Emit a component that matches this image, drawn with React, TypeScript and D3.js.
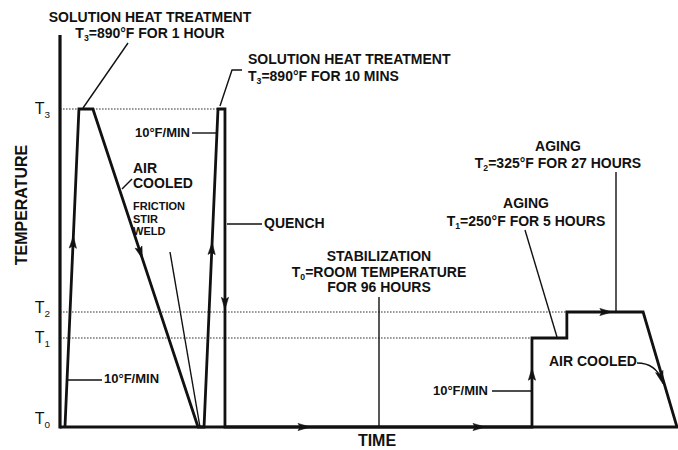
import React, { useEffect, useRef } from "react";
import * as d3 from "d3";

// temperature levels (T0 = room temperature), degrees F
const levelNames = ["T0", "T1", "T2", "T3"];
const levelTemps = [70, 250, 325, 890];

// time-temperature path of the whole process (schematic time units)
const pathTime = [1.0, 3.8, 6.6, 27.7, 28.9, 31.7, 33.1, 33.1, 94.7, 94.7, 101.7, 101.7, 117.0, 123.8];
const pathTemp = [70, 890, 890, 70, 70, 890, 890, 70, 70, 250, 250, 325, 325, 70];

// arrows: path segment index and position of the tip along it
const arrowSeg = [0, 2, 4, 6, 7, 7, 8, 11];
const arrowAt = [0.6, 0.47, 0.58, 0.63, 0.277, 0.847, 0.66, 0.59];

// dotted guide lines: level and the time where they stop
const guideTemps = [890, 325, 250];
const guideEnds = [31.7, 101.7, 94.7];

const W = 678, H = 450;
const FONT = "'Liberation Sans', Arial, Helvetica, sans-serif";
const INK = "#111";

const labels = [
  { lines: ["SOLUTION HEAT TREATMENT", "T_3=890°F FOR 1 HOUR"], x: 150, y: [22, 38], anchor: "middle", size: 14 },
  { lines: ["SOLUTION HEAT TREATMENT", "T_3=890°F FOR 10 MINS"], x: 248, y: [64, 81], anchor: "start", size: 14 },
  { lines: ["10°F/MIN"], x: 190, y: [137], anchor: "end", size: 13 },
  { lines: ["AIR", "COOLED"], x: 133, y: [173, 188], anchor: "start", size: 14 },
  { lines: ["FRICTION", "STIR", "WELD"], x: 133, y: [210, 223, 235], anchor: "start", size: 11 },
  { lines: ["QUENCH"], x: 264, y: [228], anchor: "start", size: 14 },
  { lines: ["10°F/MIN"], x: 104, y: [383], anchor: "start", size: 13 },
  { lines: ["STABILIZATION", "T_0=ROOM TEMPERATURE", "FOR 96 HOURS"], x: 379, y: [261, 277, 292], anchor: "middle", size: 14 },
  { lines: ["AGING", "T_2=325°F FOR 27 HOURS"], x: 558, y: [151, 168], anchor: "middle", size: 14 },
  { lines: ["AGING", "T_1=250°F FOR 5 HOURS"], x: 526, y: [208, 226], anchor: "middle", size: 14 },
  { lines: ["AIR COOLED"], x: 549, y: [366], anchor: "start", size: 14 },
  { lines: ["10°F/MIN"], x: 488, y: [395], anchor: "end", size: 13 },
  { lines: ["TIME"], x: 377, y: [446], anchor: "middle", size: 16 },
];

const leaders = [
  [[83, 108], [128, 43]],
  [[220, 106], [232, 70], [242, 70]],
  [[192, 133], [216, 133]],
  [[122, 189], [132, 179]],
  [[170, 252], [200, 427]],
  [[227, 224], [262, 224]],
  [[68, 380], [102, 380]],
  [[379, 297], [379, 427]],
  [[616, 172], [616, 312]],
  [[525, 230], [557, 337]],
  [[492, 391], [531, 391]],
];

function arrowHead(g, x, y, dx, dy, L = 12, hw = 3.6) {
  const len = Math.hypot(dx, dy);
  const ux = dx / len, uy = dy / len;
  const nx = -uy, ny = ux;
  const bx = x - ux * L, by = y - uy * L;
  const pts = [
    [x, y],
    [bx + nx * hw, by + ny * hw],
    [x - ux * L * 0.8, y - uy * L * 0.8],
    [bx - nx * hw, by - ny * hw],
  ];
  g.append("path").attr("d", d3.line()(pts) + "Z").attr("fill", INK).attr("stroke", INK).attr("stroke-width", 0.6);
}

function writeLine(t, str, size) {
  const m = str.match(/^T_(\d)(.*)$/);
  if (!m) {
    t.text(str);
    return;
  }
  t.append("tspan").text("T");
  t.append("tspan").attr("font-size", size * 0.62).attr("dy", size * 0.22).text(m[1]);
  t.append("tspan").attr("dy", -size * 0.22).text(m[2]);
}

export default function App() {
  const ref = useRef(null);

  useEffect(() => {
    const svg = d3.select(ref.current);
    svg.selectAll("*").remove();
    svg.append("rect").attr("width", W).attr("height", H).attr("fill", "#fff");

    const x = d3.scaleLinear().domain([0, 124]).range([60, 678]);
    // schematic (piecewise) temperature axis
    const y = d3.scaleLinear().domain(levelTemps).range([427, 338, 312, 109]);

    // dotted guides
    guideTemps.forEach((tp, i) => {
      svg.append("line")
        .attr("x1", x(0)).attr("x2", x(guideEnds[i]))
        .attr("y1", y(tp)).attr("y2", y(tp))
        .attr("stroke", "#333").attr("stroke-width", 1)
        .attr("stroke-dasharray", "1.6,1.4");
    });

    // axes
    svg.append("line").attr("x1", x(0)).attr("x2", x(0)).attr("y1", 35).attr("y2", y(70) + 1.5)
      .attr("stroke", INK).attr("stroke-width", 3.2);
    svg.append("line").attr("x1", x(0)).attr("x2", W).attr("y1", y(70)).attr("y2", y(70))
      .attr("stroke", INK).attr("stroke-width", 3);

    // level labels
    levelNames.forEach((n, i) => {
      const yy = y(levelTemps[i]);
      const off = i === 0 ? -3 : i === 2 ? 1 : 5;
      const t = svg.append("text").attr("x", 50).attr("y", yy + off)
        .attr("text-anchor", "end").attr("font-family", FONT).attr("font-size", 16).attr("fill", INK);
      writeLine(t, "T_" + n.slice(1), 16);
    });

    svg.append("text")
      .attr("transform", "translate(27,205) rotate(-90)")
      .attr("text-anchor", "middle").attr("font-family", FONT).attr("font-weight", "bold")
      .attr("font-size", 16).attr("fill", INK).text("TEMPERATURE");

    // leaders
    leaders.forEach((pts) => {
      svg.append("path").attr("d", d3.line()(pts)).attr("fill", "none")
        .attr("stroke", INK).attr("stroke-width", 1.4);
    });
    svg.append("path").attr("d", "M637,363 Q656,363 662,381").attr("fill", "none")
      .attr("stroke", INK).attr("stroke-width", 1.4);
    arrowHead(svg, 663, 384, 0.3, 1, 13, 3.8);

    // process path
    const pts = pathTime.map((t, i) => [x(t), y(pathTemp[i])]);
    svg.append("path").attr("d", d3.line()(pts)).attr("fill", "none")
      .attr("stroke", INK).attr("stroke-width", 2.8).attr("stroke-linejoin", "miter");

    arrowSeg.forEach((s, i) => {
      const [x0, y0] = pts[s];
      const [x1, y1] = pts[s + 1];
      const f = arrowAt[i];
      arrowHead(svg, x0 + (x1 - x0) * f, y0 + (y1 - y0) * f, x1 - x0, y1 - y0);
    });

    // text
    labels.forEach((lb) => {
      lb.lines.forEach((ln, j) => {
        const t = svg.append("text").attr("x", lb.x).attr("y", lb.y[j])
          .attr("text-anchor", lb.anchor).attr("font-family", FONT).attr("font-weight", "bold")
          .attr("font-size", lb.size).attr("fill", INK);
        writeLine(t, ln, lb.size);
      });
    });
  }, []);

  return (
    <svg ref={ref} width={W} height={H}
      style={{ position: "absolute", left: 0, top: 0, display: "block" }} />
  );
}
